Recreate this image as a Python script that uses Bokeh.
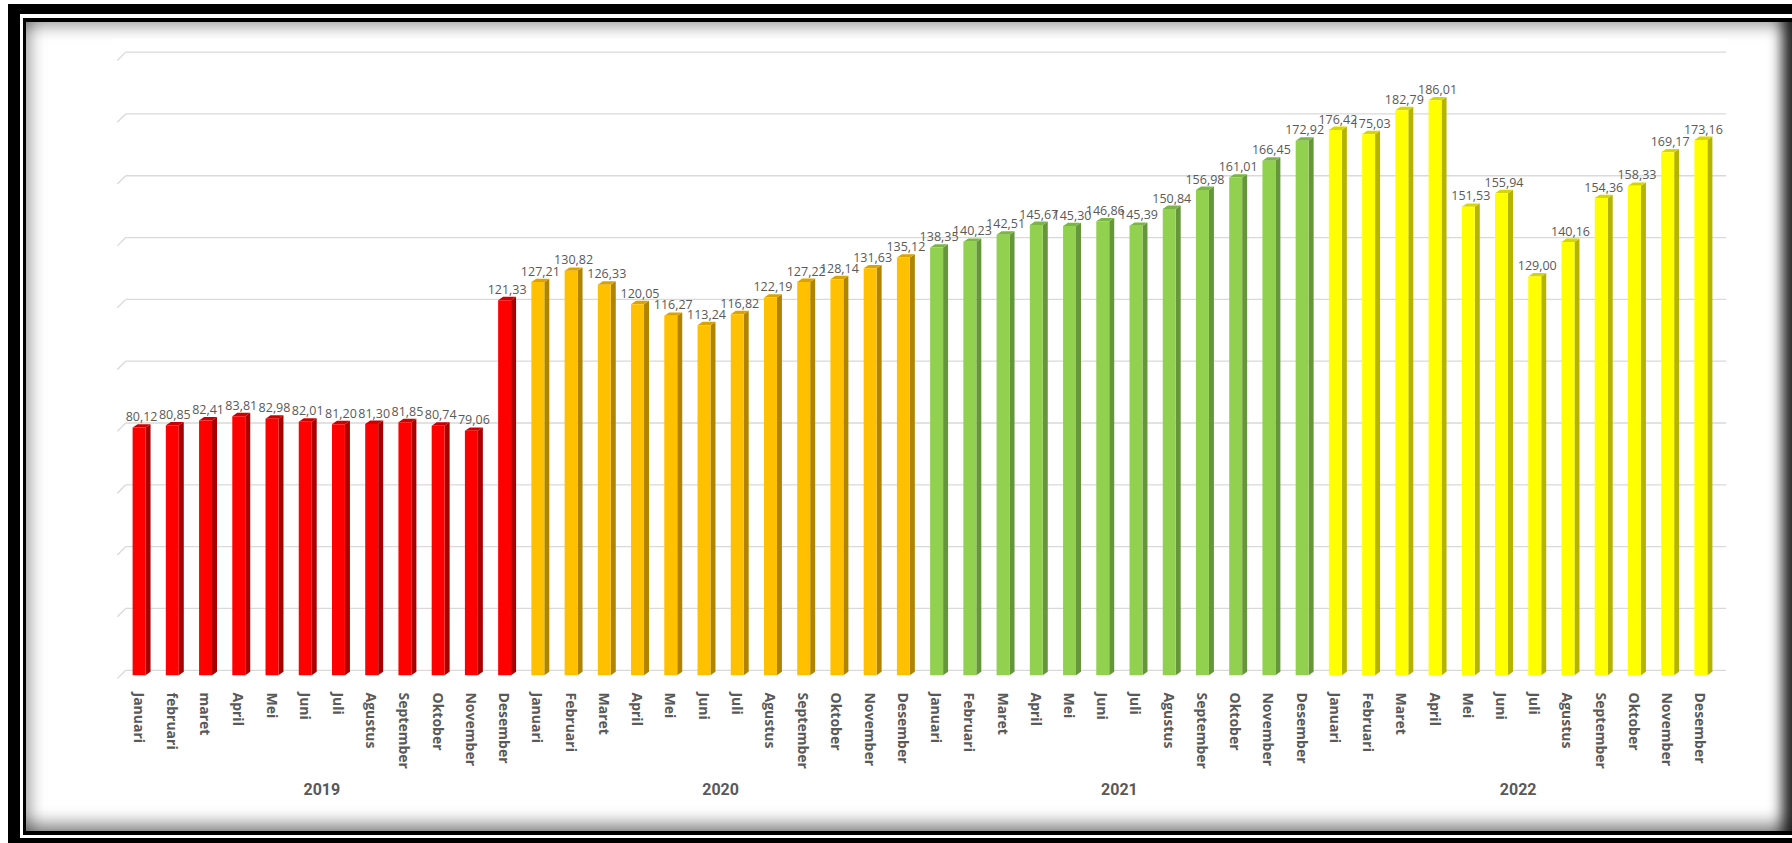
from bokeh.plotting import figure
from bokeh.models import FactorRange, ColumnDataSource, Range1d, CategoricalAxis
from bokeh.core.properties import value
from bokeh.embed import file_html
from bokeh.resources import INLINE

# ---------------- data ----------------
years = ["2019", "2020", "2021", "2022"]
months_2019 = ["Januari", "februari", "maret", "April", "Mei", "Juni", "Juli",
               "Agustus", "September", "Oktober", "November", "Desember"]
months_std = ["Januari", "Februari", "Maret", "April", "Mei", "Juni", "Juli",
              "Agustus", "September", "Oktober", "November", "Desember"]
values_2019 = [80.12, 80.85, 82.41, 83.81, 82.98, 82.01, 81.20, 81.30, 81.85, 80.74, 79.06, 121.33]
values_2020 = [127.21, 130.82, 126.33, 120.05, 116.27, 113.24, 116.82, 122.19, 127.22, 128.14, 131.63, 135.12]
values_2021 = [138.35, 140.23, 142.51, 145.67, 145.30, 146.86, 145.39, 150.84, 156.98, 161.01, 166.45, 172.92]
values_2022 = [176.42, 175.03, 182.79, 186.01, 151.53, 155.94, 129.00, 140.16, 154.36, 158.33, 169.17, 173.16]
gridline_values = [0, 20, 40, 60, 80, 100, 120, 140, 160, 180, 200]

# per-year colours: front face, side face, top face
front_colors = ["#FF0000", "#FFC000", "#92D050", "#FFFF00"]
side_colors = ["#A80000", "#B08400", "#66963A", "#B4B400"]
top_colors = ["#CC0000", "#D9A300", "#7AB545", "#D6D600"]

month_lists = [months_2019, months_std, months_std, months_std]
value_lists = [values_2019, values_2020, values_2021, values_2022]

# ---------------- geometry (category units / data units) ----------------
W = 0.39      # front face width
D = 0.15      # depth of side face
H = 1.1       # rise of the top face
GRID_LIFT = 1.6
DIAG_DY = 2.7
PAD = 0.3     # range padding (category units) on each side

factors, vals, fronts, sides, tops = [], [], [], [], []
for yr, ms, vs, fc, sc, tc in zip(years, month_lists, value_lists, front_colors, side_colors, top_colors):
    for m, v in zip(ms, vs):
        factors.append((yr, m))
        vals.append(v)
        fronts.append(fc)
        sides.append(sc)
        tops.append(tc)

src_front = ColumnDataSource(dict(x=factors, top=vals, color=fronts))

side_xs, side_ys, top_xs, top_ys = [], [], [], []
for (yr, m), v in zip(factors, vals):
    side_xs.append([(yr, m, W / 2), (yr, m, W / 2 + D), (yr, m, W / 2 + D), (yr, m, W / 2)])
    side_ys.append([0, H, v + H, v])
    top_xs.append([(yr, m, -W / 2), (yr, m, W / 2), (yr, m, W / 2 + D), (yr, m, -W / 2 + D)])
    top_ys.append([v, v, v + H, v + H])
src_side = ColumnDataSource(dict(xs=side_xs, ys=side_ys, color=sides))
src_top = ColumnDataSource(dict(xs=top_xs, ys=top_ys, color=tops))

labels = [f"{v:.2f}".replace(".", ",") for v in vals]
src_lab = ColumnDataSource(dict(x=[(yr, m, D / 2) for (yr, m) in factors],
                                y=[v + H for v in vals], text=labels))

# ---------------- figure ----------------
x_range = FactorRange(*factors, factor_padding=0, group_padding=0,
                      range_padding=PAD, range_padding_units="absolute")
p = figure(x_range=x_range, y_range=Range1d(-3, 206), width=1792, height=843,
           output_backend="svg", toolbar_location=None, y_axis_location=None,
           min_border_left=112, min_border_right=65, min_border_top=38, min_border_bottom=159)
p.outline_line_color = None
p.grid.visible = False
p.background_fill_color = "white"
p.border_fill_color = None

# year range: one factor per year, same span as 12 months
p.extra_x_ranges = {"years": FactorRange(*years, factor_padding=0,
                                         range_padding=PAD / 12, range_padding_units="absolute")}

# frame decoration drawn by the host element (double black frame + inner shadow)
shadows = [
    "inset 8px 0 0 0 #ffffff", "inset 0 4px 0 0 #ffffff",
    "inset 20px 0 0 0 #000000", "inset 0 14px 0 0 #000000", "inset 0 -5px 0 0 #000000",
    "inset 23px 0 0 0 #ffffff", "inset 0 18px 0 0 #ffffff", "inset 0 -8px 0 0 #ffffff",
    "inset 26px 0 0 0 #000000", "inset 0 22px 0 0 #000000", "inset 0 -12px 0 0 #000000",
    "inset 30px 0 16px 0 rgba(0,0,0,0.40)", "inset 0 26px 16px 0 rgba(0,0,0,0.40)",
    "inset 0 -20px 16px 0 rgba(0,0,0,0.45)", "inset -10px 0 14px 0 rgba(0,0,0,0.75)",
]
p.styles = {"background-color": "white", "box-shadow": ", ".join(shadows)}

# gridlines (back wall) with the small floor diagonal at the left
first, last = factors[0], factors[-1]
g_x0 = [(first[0], first[1], -0.404) for g in gridline_values]
g_x1 = [(last[0], last[1], 0.76) for g in gridline_values]
g_y = [g + GRID_LIFT for g in gridline_values]
p.segment(x0=g_x0, y0=g_y, x1=g_x1, y1=g_y, line_color="#D9D9D9", line_width=1.3)
d_x0 = [(first[0], first[1], -0.654) for g in gridline_values]
d_y0 = [g + GRID_LIFT - DIAG_DY for g in gridline_values]
p.segment(x0=d_x0, y0=d_y0, x1=g_x0, y1=g_y, line_color="#D9D9D9", line_width=1.3)

# bars
p.patches(xs="xs", ys="ys", source=src_side, fill_color="color", line_color=None)
p.patches(xs="xs", ys="ys", source=src_top, fill_color="color", line_color=None)
p.vbar(x="x", top="top", bottom=0, width=W, source=src_front, fill_color="color", line_color=None)

# data labels
p.text(x="x", y="y", text="text", source=src_lab, text_align="center", text_baseline="bottom",
       y_offset=-3, text_font=value("Open Sans"), text_font_size="12.5px", text_color="#595959")

# month axis (nested factors; its own group labels hidden)
ax = p.xaxis[0]
ax.axis_line_color = None
ax.major_tick_line_color = None
ax.minor_tick_line_color = None
ax.major_label_orientation = "vertical"
ax.major_label_standoff = 2
ax.major_label_text_font = "Open Sans"
ax.major_label_text_font_size = "14px"
ax.major_label_text_font_style = "bold"
ax.major_label_text_color = "#595959"
ax.group_text_color = None
ax.separator_line_color = None

# year axis below
yax = CategoricalAxis(x_range_name="years", axis_line_color=None, major_tick_line_color=None,
                      minor_tick_line_color=None, major_label_standoff=5,
                      major_label_text_font="Roboto", major_label_text_font_size="16px",
                      major_label_text_font_style="bold", major_label_text_color="#595959")
p.add_layout(yax, "below")

open("out.html", "w").write(file_html(p, INLINE))
